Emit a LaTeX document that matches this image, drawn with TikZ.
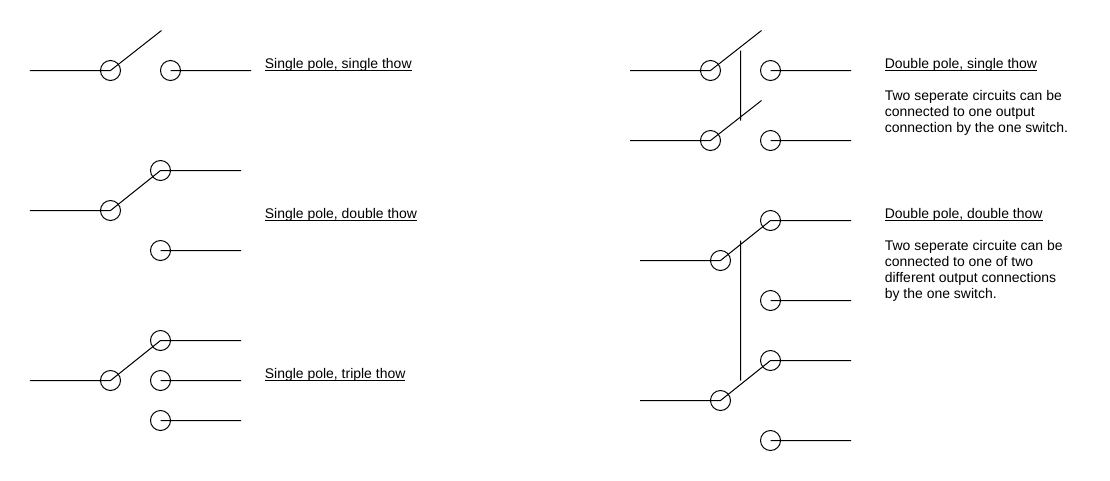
\documentclass[tikz,border=0pt]{standalone}
\usepackage{fontspec}
\setmainfont{Liberation Sans}
\usetikzlibrary{positioning}
\newcommand{\headline}[1]{\underline{\smash{#1}}}
\tikzset{
    wire/.style={line width=0.57pt},
    contact/.style={circle,draw,line width=0.57pt,minimum size=0.4cm,inner sep=0pt},
    title/.style={anchor=base west,inner sep=0pt,font=\fontsize{7.95}{9.07}\selectfont},
    remark/.style={anchor=north west,inner sep=0pt,align=left,font=\fontsize{7.95}{9.07}\selectfont},
}
\begin{document}
\begin{tikzpicture}
    \useasboundingbox (-0.01,0.01) rectangle (22.19,-9.59);

    % single pole, single throw
    \node[contact] (pa) at (2.2,-1.4) {};
    \node[contact] (ca) at (3.4,-1.4) {};
    \coordinate (ina) at (0.59,-1.4);
    \coordinate (outa) at (5.01,-1.4);
    \coordinate (arma) at (3.22,-0.6);
    \draw[wire] (ina) -- (pa.center) -- (arma)
    (ca.center) -- (outa)
    ;
    \node[title] (ta) at (5.28,-1.35) {\headline{Single pole, single thow}};

    % single pole, double throw
    \node[contact] (pb) at (2.2,-4.2) {};
    \node[contact] (cb1) at (3.2,-3.4) {};
    \node[contact] (cb2) at (3.2,-5) {};
    \coordinate (inb) at (0.59,-4.2);
    \coordinate (outb1) at (4.81,-3.4);
    \coordinate (outb2) at (4.81,-5);
    \draw[wire] (inb) -- (pb.center) -- (cb1.center) -- (outb1)
    (cb2.center) -- (outb2)
    ;
    \node[title] (tb) at (5.28,-4.35) {\headline{Single pole, double thow}};

    % single pole, triple throw
    \node[contact] (pc) at (2.2,-7.6) {};
    \node[contact] (cc1) at (3.2,-6.8) {};
    \node[contact] (cc2) at (3.2,-7.6) {};
    \node[contact] (cc3) at (3.2,-8.4) {};
    \coordinate (inc) at (0.59,-7.6);
    \coordinate (outc1) at (4.81,-6.8);
    \coordinate (outc2) at (4.81,-7.6);
    \coordinate (outc3) at (4.81,-8.4);
    \draw[wire] (inc) -- (pc.center) -- (cc1.center) -- (outc1)
    (cc2.center) -- (outc2)
    (cc3.center) -- (outc3)
    ;
    \node[title] (tc) at (5.28,-7.55) {\headline{Single pole, triple thow}};

    % double pole, single throw
    \node[contact] (pd1) at (14.2,-1.4) {};
    \node[contact] (pd2) at (14.2,-2.8) {};
    \node[contact] (cd1) at (15.4,-1.4) {};
    \node[contact] (cd2) at (15.4,-2.8) {};
    \coordinate (ind1) at (12.59,-1.4);
    \coordinate (ind2) at (12.59,-2.8);
    \coordinate (outd1) at (17.01,-1.4);
    \coordinate (outd2) at (17.01,-2.8);
    \coordinate (armd1) at (15.22,-0.6);
    \coordinate (armd2) at (15.22,-2);
    \coordinate (linkd1) at (14.8,-1);
    \coordinate (linkd2) at (14.8,-2.4);
    \draw[wire] (ind1) -- (pd1.center) -- (armd1)
    (ind2) -- (pd2.center) -- (armd2)
    (cd1.center) -- (outd1)
    (cd2.center) -- (outd2)
    (linkd1) -- (linkd2)
    ;
    \node[title] (td) at (17.68,-1.35) {\headline{Double pole, single thow}};
    \node[remark] (rd) at (17.68,-1.79) {Two seperate circuits can be\\connected to one output\\connection by the one switch.};

    % double pole, double throw
    \node[contact] (pe1) at (14.4,-5.2) {};
    \node[contact] (pe2) at (14.4,-8) {};
    \node[contact] (ce1) at (15.4,-4.4) {};
    \node[contact] (ce2) at (15.4,-6) {};
    \node[contact] (ce3) at (15.4,-7.2) {};
    \node[contact] (ce4) at (15.4,-8.8) {};
    \coordinate (ine1) at (12.79,-5.2);
    \coordinate (ine2) at (12.79,-8);
    \coordinate (oute1) at (17.01,-4.4);
    \coordinate (oute2) at (17.01,-6);
    \coordinate (oute3) at (17.01,-7.2);
    \coordinate (oute4) at (17.01,-8.8);
    \coordinate (linke1) at (14.8,-4.8);
    \coordinate (linke2) at (14.8,-7.6);
    \draw[wire] (ine1) -- (pe1.center) -- (ce1.center) -- (oute1)
    (ine2) -- (pe2.center) -- (ce3.center) -- (oute3)
    (ce2.center) -- (oute2)
    (ce4.center) -- (oute4)
    (linke1) -- (linke2)
    ;
    \node[title] (te) at (17.68,-4.35) {\headline{Double pole, double thow}};
    \node[remark] (re) at (17.68,-4.79) {Two seperate circuite can be\\connected to one of two\\different output connections\\by the one switch.};
\end{tikzpicture}
\end{document}
